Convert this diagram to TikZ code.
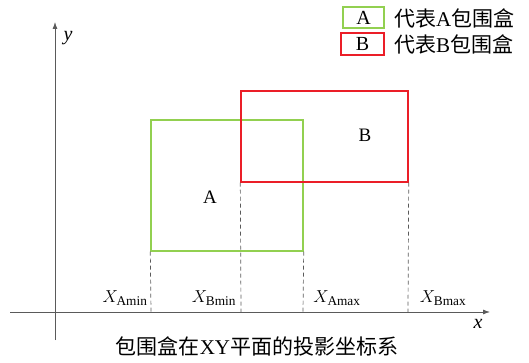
\documentclass[tikz,border=0pt]{standalone}
\usepackage{fontspec}
\setmainfont{Liberation Serif}
\newfontfamily\cjk{Noto Sans CJK SC}
\usetikzlibrary{arrows.meta}
\definecolor{boxgreen}{RGB}{146,208,80}
\definecolor{boxred}{RGB}{235,30,40}
\definecolor{axisgray}{RGB}{90,90,90}
\begin{document}
\begin{tikzpicture}[x=1pt,y=-1pt,
  axisline/.style={draw=axisgray,line width=0.8pt,-{Latex[length=7pt,width=5pt]}},
  greenbox/.style={draw=boxgreen,line width=1.4pt},
  redbox/.style={draw=boxred,line width=1.4pt},
  guide/.style={draw=axisgray,dashed,dash pattern=on 4pt off 3pt,line width=0.7pt},
  lbl/.style={font=\fontsize{19}{22}\selectfont,inner sep=0pt},
  txt/.style={font=\fontsize{21}{24}\selectfont,inner sep=0pt}]
\useasboundingbox (0,0) rectangle (529,363);
% axes
\coordinate (xs) at (10,312);
\coordinate (xe) at (490,312);
\coordinate (ys) at (55,340);
\coordinate (ye) at (55,22);
\draw[axisline] (xs) -- (xe);
\draw[axisline] (ys) -- (ye);
\node[lbl,font=\fontsize{20}{22}\selectfont\itshape] (ylab) at (68,38) {y};
\node[lbl,font=\fontsize{20}{22}\selectfont\itshape] (xlab) at (478,324) {x};
% boxes
\node[greenbox,minimum width=152pt,minimum height=131pt,inner sep=0pt] (A) at (227,185.5) {};
\node[lbl] (Alab) at (210,197) {A};
\node[redbox,minimum width=167pt,minimum height=91pt,inner sep=0pt] (B) at (324.5,136.5) {};
\node[lbl] (Blab) at (365,135) {B};
% projection coordinates
\coordinate (pa1) at (151,312);
\coordinate (pb1) at (241,312);
\coordinate (pa2) at (303,312);
\coordinate (pb2) at (408,312);
\draw[guide] (A.south west) -- (pa1);
\draw[guide] (B.south west) -- (pb1);
\draw[guide] (A.south east) -- (pa2);
\draw[guide] (B.south east) -- (pb2);
\node[lbl] (xamin) at (125,298) {$X_{\mathrm{Amin}}$};
\node[lbl] (xbmin) at (214,298) {$X_{\mathrm{Bmin}}$};
\node[lbl] (xamax) at (337,298) {$X_{\mathrm{Amax}}$};
\node[lbl] (xbmax) at (443,298) {$X_{\mathrm{Bmax}}$};
% legend
\node[greenbox,minimum width=41pt,minimum height=21pt,inner sep=0pt,font=\fontsize{20}{22}\selectfont] (legA) at (363.5,17.5) {A};
\node[redbox,minimum width=43pt,minimum height=22pt,inner sep=0pt,font=\fontsize{20}{22}\selectfont] (legB) at (362.5,44) {B};
\node[txt,anchor=west] (legAt) at (394,18) {{\cjk 代表}A{\cjk 包围盒}};
\node[txt,anchor=west] (legBt) at (394,44) {{\cjk 代表}B{\cjk 包围盒}};
% title
\node[txt] (title) at (257,346) {{\cjk 包围盒在}XY{\cjk 平面的投影坐标系}};
\end{tikzpicture}
\end{document}
